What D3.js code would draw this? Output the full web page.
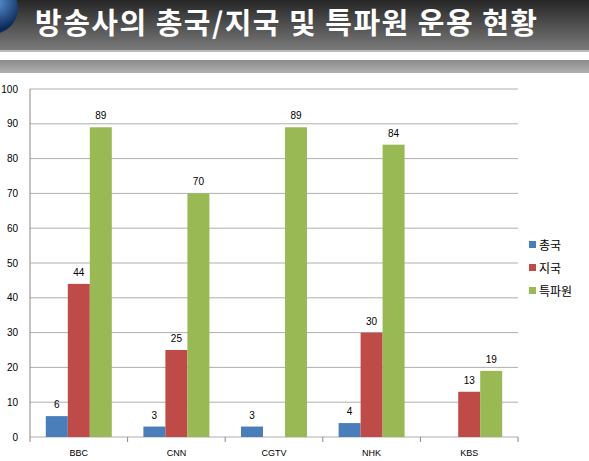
<!DOCTYPE html><html><head><meta charset="utf-8"><script src="https://cdn.jsdelivr.net/npm/d3@7"></script>
<style>body{margin:0;background:#fff}svg{display:block}</style></head><body><svg id="c" width="589" height="461"></svg>
<script>
const categories=["BBC","CNN","CGTV","NHK","KBS"];
const seriesNames=["총국","지국","특파원"];
const hq=[6,3,3,4,null];
const bureau=[44,25,null,30,13];
const corr=[89,70,89,84,19];
const yTicks=[0,10,20,30,40,50,60,70,80,90,100];
const colors=["#4a7ebb","#be4b48","#98b954"];
const series=[hq,bureau,corr];
const svg=d3.select("#c");
const defs=svg.append("defs");
const g1=defs.append("linearGradient").attr("id","hd").attr("x1",0).attr("x2",0).attr("y1",0).attr("y2",1);
g1.append("stop").attr("offset",0).attr("stop-color","#262626");g1.append("stop").attr("offset",1).attr("stop-color","#7a7a7a");
const g2=defs.append("linearGradient").attr("id","bd").attr("x1",0).attr("x2",0).attr("y1",0).attr("y2",1);
g2.append("stop").attr("offset",0).attr("stop-color","#8a8a8a");g2.append("stop").attr("offset",1).attr("stop-color","#b0b0b0");
const g3=defs.append("radialGradient").attr("id","gl").attr("cx",0.6).attr("cy",0.4);
g3.append("stop").attr("offset",0).attr("stop-color","#5a8fd0");g3.append("stop").attr("offset",1).attr("stop-color","#0b2a5a");
svg.append("rect").attr("width",589).attr("height",50).attr("fill","url(#hd)");
svg.append("circle").attr("cx",-8).attr("cy",8).attr("r",26).attr("fill","url(#gl)");
svg.append("rect").attr("y",50).attr("width",589).attr("height",2).attr("fill","#bbb");
svg.append("rect").attr("y",60).attr("width",589).attr("height",13).attr("fill","url(#bd)");
svg.append("text").attr("x",35).attr("y",34).attr("fill","#fff").attr("font-family","Noto Sans CJK KR").attr("font-weight","bold").attr("font-size",29).attr("textLength",502).text("방송사의 총국/지국 및 특파원 운용 현황");
const x=d3.scaleBand().domain(categories).range([30,518]);
const y=d3.scaleLinear().domain([0,100]).range([437,89]);
const gx=d3.scaleBand().domain([0,1,2]).range([0,66]);
const off=(x.bandwidth()-66)/2;
svg.append("g").selectAll("line").data(yTicks).join("line").attr("x1",30).attr("x2",518).attr("y1",d=>y(d)).attr("y2",d=>y(d)).attr("stroke","#999").attr("stroke-width",0.8);
svg.append("g").selectAll("text").data(yTicks).join("text").attr("x",18).attr("y",d=>y(d)+3.5).attr("text-anchor","end").attr("font-family","Liberation Sans").attr("font-size",10).text(d=>d);
svg.append("line").attr("x1",30).attr("x2",30).attr("y1",89).attr("y2",437).attr("stroke","#888");
svg.append("g").selectAll("line").data(d3.range(6)).join("line").attr("x1",i=>30+i*x.step()).attr("x2",i=>30+i*x.step()).attr("y1",437).attr("y2",442).attr("stroke","#888");
series.forEach((s,si)=>{
 const gg=svg.append("g");
 categories.forEach((c,ci)=>{
  const v=s[ci]; if(v==null)return;
  const bx=x(c)+off+gx(si);
  gg.append("rect").attr("x",bx).attr("y",y(v)).attr("width",gx.bandwidth()).attr("height",y(0)-y(v)).attr("fill",colors[si]);
  gg.append("text").attr("x",bx+gx.bandwidth()/2).attr("y",y(v)-8).attr("text-anchor","middle").attr("font-family","Liberation Sans").attr("font-size",10).text(v);
 });
});
svg.append("g").selectAll("text").data(categories).join("text").attr("x",d=>x(d)+x.bandwidth()/2).attr("y",456).attr("text-anchor","middle").attr("font-family","Liberation Sans").attr("font-size",9).text(d=>d);
const lg=svg.append("g").selectAll("g").data(seriesNames).join("g").attr("transform",(d,i)=>`translate(529,${245+i*23})`);
lg.append("rect").attr("y",-4).attr("width",7).attr("height",7).attr("fill",(d,i)=>colors[i]);
lg.append("text").attr("x",10).attr("y",5).attr("font-family","Noto Sans CJK KR").attr("font-size",12).text(d=>d);
</script></body></html>
